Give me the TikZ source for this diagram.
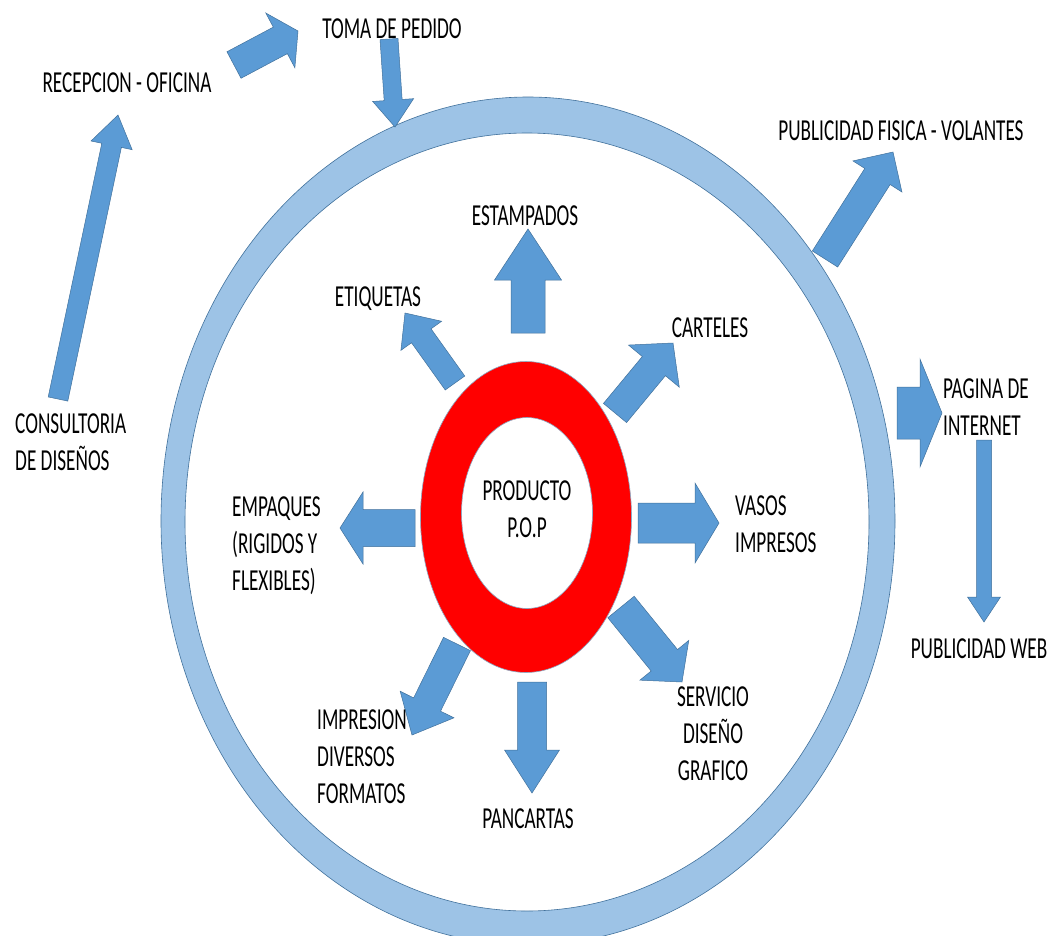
\documentclass[tikz,border=0pt]{standalone}
\usepackage{fontspec}
\setmainfont{Carlito}[FakeStretch=0.63]
\usetikzlibrary{calc}
\definecolor{arrowblue}{HTML}{5B9BD5}
\definecolor{edgeblue}{HTML}{41719C}
\definecolor{ringblue}{HTML}{9DC3E6}
\definecolor{ringred}{HTML}{FF0000}
\tikzset{
  blockarrow/.style={fill=arrowblue, draw=edgeblue, line width=0.5pt, line join=miter},
  lbl/.style={inner sep=0pt, font=\fontsize{30.5}{37}\selectfont, text=black},
}
\newcommand\barrow[5]{%
  \coordinate (bs) at (#1); \coordinate (bt) at (#2);
  \coordinate (bh) at ($(bt)!#5!(bs)$);
  \draw[blockarrow] ($(bs)!#3!90:(bt)$) -- ($(bh)!#3!-90:(bs)$) -- ($(bh)!#4!-90:(bs)$) -- (bt)
    -- ($(bh)!#4!90:(bs)$) -- ($(bh)!#3!90:(bs)$) -- ($(bs)!#3!-90:(bt)$) -- cycle;}
\begin{document}
\begin{tikzpicture}[x=1pt,y=-1pt]
\useasboundingbox[fill=white] (0,0) rectangle (1055,935);
% big ring
\begin{scope}
\clip (0,0) rectangle (1055,935);
\draw[fill=ringblue, draw=edgeblue, line width=0.6pt, even odd rule]
  (528,521) ellipse [x radius=367pt, y radius=424pt]
  (527,522) ellipse [x radius=342pt, y radius=389pt];
\end{scope}
% red ring
\draw[fill=ringred, draw=edgeblue!60, line width=0.6pt, even odd rule]
  (526,517) ellipse [x radius=105.5pt, y radius=155.5pt]
  (527,513) ellipse [x radius=65.5pt, y radius=95.5pt];
% block arrows
\barrow{58,399}{118,115}{10pt}{21pt}{31pt}
\barrow{234,65}{298,31}{15pt}{31pt}{20pt}
\barrow{389,39}{395,127}{9pt}{20.5pt}{27pt}
\barrow{528,333}{528,229}{17pt}{33.5pt}{51pt}
\barrow{455,383}{405,313}{12pt}{25pt}{28pt}
\barrow{615,413}{673,343}{15pt}{33pt}{30pt}
\barrow{638,523}{719,523}{20pt}{40pt}{24pt}
\barrow{621,607}{682,682}{17pt}{31.5pt}{28pt}
\barrow{532,682}{532,793}{14.5pt}{27.5pt}{43pt}
\barrow{457,644}{412,735}{15pt}{30pt}{34pt}
\barrow{415,528}{340,528}{18.5pt}{36pt}{23pt}
\barrow{825,259}{893,152}{15pt}{29pt}{29pt}
\barrow{897,413}{942,413}{26pt}{54pt}{22pt}
\barrow{984,440}{984,622}{7.5pt}{16.5pt}{25pt}
% labels (base anchor = baseline of the last line)
\node[lbl, anchor=base] (toma) at (392,38) {TOMA DE PEDIDO};
\node[lbl, anchor=base] (recep) at (127,92) {RECEPCION - OFICINA};
\node[lbl, anchor=base west, align=left] (consult) at (15,470) {CONSULTORIA\\DE DISEÑOS};
\node[lbl, anchor=base] (estamp) at (525,225) {ESTAMPADOS};
\node[lbl, anchor=base] (etiq) at (378,306) {ETIQUETAS};
\node[lbl, anchor=base] (cart) at (710,337) {CARTELES};
\node[lbl, anchor=base west, align=left] (vasos) at (735,552) {VASOS\\IMPRESOS};
\node[lbl, anchor=base west, align=left] (empaq) at (232,590) {EMPAQUES\\(RIGIDOS Y\\FLEXIBLES)};
\node[lbl, anchor=base west, align=left] (pagina) at (943,435) {PAGINA DE\\INTERNET};
\node[lbl, anchor=base] (web) at (979,658) {PUBLICIDAD WEB};
\node[lbl, anchor=base] (fisica) at (901,140) {PUBLICIDAD FISICA - VOLANTES};
\node[lbl, anchor=base, align=center] (servicio) at (713,780) {SERVICIO\\DISEÑO\\GRAFICO};
\node[lbl, anchor=base west, align=left] (impresion) at (317,803) {IMPRESION\\DIVERSOS\\FORMATOS};
\node[lbl, anchor=base] (pancartas) at (528,828) {PANCARTAS};
\node[lbl, anchor=base, align=center] (producto) at (527,537) {PRODUCTO\\P.O.P};
\end{tikzpicture}
\end{document}
